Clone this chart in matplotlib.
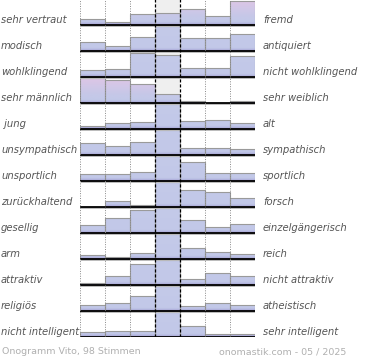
import numpy as np
import matplotlib.pyplot as plt
from matplotlib.colors import LinearSegmentedColormap
from matplotlib.transforms import blended_transform_factory

left_labels = ["sehr vertraut", "modisch", "wohlklingend", "sehr männlich", " jung",
               "unsympathisch", "unsportlich", "zurückhaltend", "gesellig", "arm",
               "attraktiv", "religiös", "nicht intelligent"]
right_labels = ["fremd", "antiquiert", "nicht wohlklingend", "sehr weiblich", "alt",
                "sympathisch", "sportlich", "forsch", "einzelgängerisch", "reich",
                "nicht attraktiv", "atheistisch", "sehr intelligent"]

# share of votes per scale step (%), 7 steps per row
sehr_vertraut = [8, 4, 14, 15, 20, 11, 31]
modisch = [12, 6, 18, 40, 17, 17, 21]
wohlklingend = [9, 10, 31, 28, 12, 12, 27]
maennlich = [33, 29, 24, 12, 3, 0, 3]
jung = [4, 7, 9, 40, 10, 12, 8]
unsympathisch = [15, 11, 16, 40, 9, 9, 7]
unsportlich = [9, 9, 11, 40, 24, 10, 10]
zurueckhaltend = [0, 8, 3, 40, 22, 19, 11]
gesellig = [10, 19, 29, 40, 17, 8, 12]
arm = [5, 2, 7, 40, 14, 9, 6]
attraktiv = [3, 12, 27, 40, 7, 15, 12]
religioes = [7, 10, 19, 40, 6, 10, 7]
intelligent = [6, 8, 8, 40, 14, 4, 4]

rows = [sehr_vertraut, modisch, wohlklingend, maennlich, jung, unsympathisch,
        unsportlich, zurueckhaltend, gesellig, arm, attraktiv, religioes, intelligent]
tinted = [True, False, False, True] + [False] * 9

vmax = 32.0
n = len(rows)

cm_blue = LinearSegmentedColormap.from_list(
    "b", [(0, "#a29acd"), (0.07, "#b8bde3"), (0.12, "#c2c8e8"), (1, "#c4cae9")])
cm_pink = LinearSegmentedColormap.from_list(
    "p", [(0, "#a29acd"), (0.07, "#b8bde3"), (0.12, "#c2c8e8"), (0.35, "#c6c8e8"), (1, "#e0c6e6")])
grad = np.linspace(0, 1, 100).reshape(-1, 1)

fig = plt.figure(figsize=(3.7, 3.6), dpi=100)
ax = fig.add_axes([80 / 370, 23 / 360, 175 / 370, 338 / 360])
ax.axis("off")

ax.axvspan(3, 4, color="#efefef", zorder=0, lw=0)

for r, vals in enumerate(rows):
    base = n - 1 - r
    hs = [min(v, vmax) / vmax * 0.97 for v in vals]
    bars = ax.bar(np.arange(7), hs, width=1, bottom=base, align="edge",
                  facecolor="none", edgecolor="#9a9a9a", lw=0.8, zorder=3)
    cm = cm_pink if tinted[r] else cm_blue
    for i, b in enumerate(bars):
        if hs[i] <= 0:
            continue
        im = ax.imshow(grad, extent=[i, i + 1, base, base + 1], origin="lower",
                       cmap=cm, aspect="auto", zorder=2, interpolation="bilinear")
        im.set_clip_path(b)
    ax.hlines(base - 0.045, 0, 7, color="#bbbbbb", lw=0.7, zorder=4)
    ax.hlines(base, 0, 7, color="black", lw=1.3, zorder=5)

for x in [0, 1, 2, 5, 6, 7]:
    ax.axvline(x, color="#888888", ls=(0, (1, 1.5)), lw=0.7, zorder=6)
for x in [3, 4]:
    ax.axvline(x, color="black", ls=(0, (2.5, 1.5)), lw=0.9, zorder=6)

ax.set_xlim(0, 7)
ax.set_ylim(0, n)

tr = blended_transform_factory(fig.transFigure, ax.transData)
for r in range(n):
    y = n - 1 - r + 5 / 26
    ax.text(1 / 370, y, left_labels[r], transform=tr, ha="left", va="center",
            fontsize=7.2, style="italic", color="#555555")
    ax.text(263 / 370, y, right_labels[r], transform=tr, ha="left", va="center",
            fontsize=7.2, style="italic", color="#555555")

fig.text(2 / 370, 1 - 352 / 360, "Onogramm Vito, 98 Stimmen", ha="left", va="center",
         fontsize=6.8, color="#b0b0b0")
fig.text(346 / 370, 1 - 352 / 360, "onomastik.com - 05 / 2025", ha="right", va="center",
         fontsize=6.8, color="#b0b0b0")

fig.savefig("out.png", dpi=100)
